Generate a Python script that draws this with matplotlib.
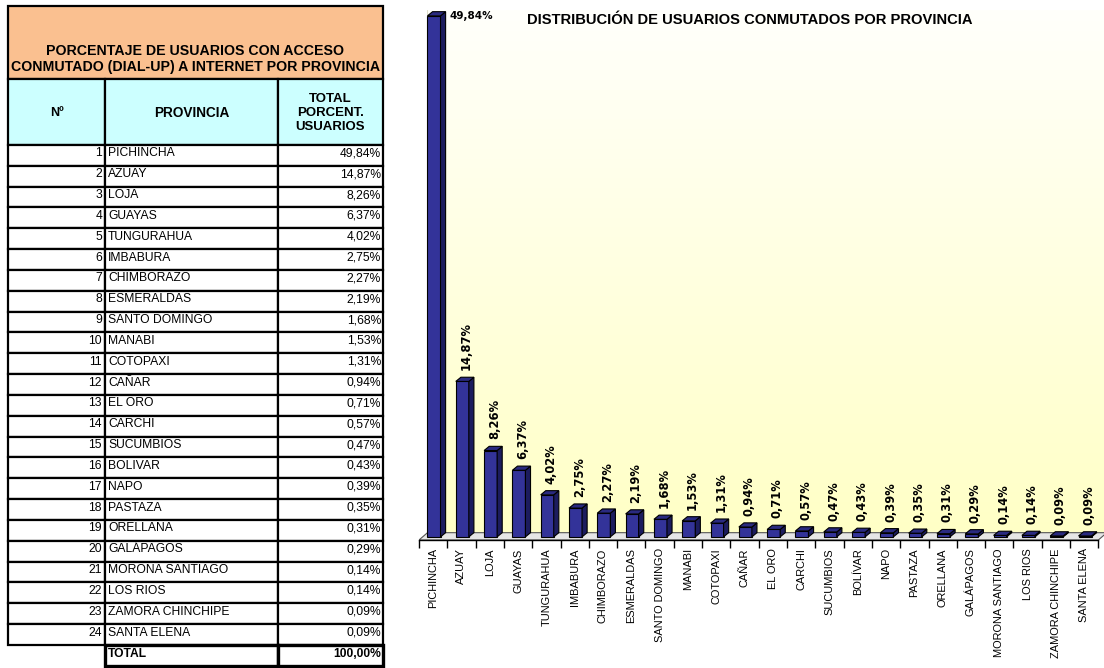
import numpy as np
import matplotlib.pyplot as plt
from matplotlib.patches import Polygon, Rectangle
from matplotlib.colors import LinearSegmentedColormap

plt.rcParams["font.family"] = ["Liberation Sans", "DejaVu Sans"]

provincias = [
    "PICHINCHA", "AZUAY", "LOJA", "GUAYAS", "TUNGURAHUA", "IMBABURA",
    "CHIMBORAZO", "ESMERALDAS", "SANTO DOMINGO", "MANABI", "COTOPAXI",
    "CAÑAR", "EL ORO", "CARCHI", "SUCUMBIOS", "BOLIVAR", "NAPO", "PASTAZA",
    "ORELLANA", "GALÁPAGOS", "MORONA SANTIAGO", "LOS RIOS",
    "ZAMORA CHINCHIPE", "SANTA ELENA",
]
etiquetas = [
    "PICHINCHA", "AZUAY", "LOJA", "GUAYAS", "TUNGURAHUA", "IMBABURA",
    "CHIMBORAZO", "ESMERALDAS", "SANTO DOMINGO", "MANABI", "COTOPAXI",
    "CAÑAR", "EL ORO", "CARCHI", "SUCUMBIOS", "BOLÍVAR", "NAPO", "PASTAZA",
    "ORELLANA", "GALÁPAGOS", "MORONA SANTIAGO", "LOS RIOS",
    "ZAMORA CHINCHIPE", "SANTA ELENA",
]
porcentajes = [
    49.84, 14.87, 8.26, 6.37, 4.02, 2.75, 2.27, 2.19, 1.68, 1.53, 1.31, 0.94,
    0.71, 0.57, 0.47, 0.43, 0.39, 0.35, 0.31, 0.29, 0.14, 0.14, 0.09, 0.09,
]
total_txt = "100,00%"
titulo_tabla = "PORCENTAJE DE USUARIOS CON ACCESO\nCONMUTADO (DIAL-UP) A INTERNET POR PROVINCIA"
titulo_grafico = "DISTRIBUCIÓN DE USUARIOS CONMUTADOS POR PROVINCIA"


def fmt(v):
    return f"{v:.2f}%".replace(".", ",")


W, H = 1104, 668
fig = plt.figure(figsize=(W / 100, H / 100), dpi=100)
fig.patch.set_facecolor("white")

# ---------------- table ----------------
tab = fig.add_axes([0, 0, 390 / W, 1])
tab.set_xlim(0, 390)
tab.set_ylim(H, 0)
tab.axis("off")

cols = [8, 105, 278, 383]
y_title, y_head, y_rows = 6, 79, 145
row_h = 20.83
lw = 1.6

tab.add_patch(Rectangle((cols[0], y_title), cols[3] - cols[0], y_head - y_title,
                        facecolor="#FAC090", edgecolor="black", lw=lw))
tab.text((cols[0] + cols[3]) / 2, 59, titulo_tabla, ha="center", va="center",
         fontsize=10.2, fontweight="bold", linespacing=1.1)

for c0, c1 in zip(cols[:-1], cols[1:]):
    tab.add_patch(Rectangle((c0, y_head), c1 - c0, y_rows - y_head,
                            facecolor="#CCFFFF", edgecolor="black", lw=lw))
tab.text((cols[0] + cols[1]) / 2, 113, "Nº", ha="center", va="center",
         fontsize=9, fontweight="bold")
tab.text((cols[1] + cols[2]) / 2, 113, "PROVINCIA", ha="center", va="center",
         fontsize=9.8, fontweight="bold")
tab.text((cols[2] + cols[3]) / 2, 113, "TOTAL\nPORCENT.\nUSUARIOS", ha="center",
         va="center", fontsize=9.5, fontweight="bold", linespacing=1.25)

for i, (prov, val) in enumerate(zip(provincias, porcentajes)):
    y0 = y_rows + i * row_h
    for c0, c1 in zip(cols[:-1], cols[1:]):
        tab.add_patch(Rectangle((c0, y0), c1 - c0, row_h, facecolor="white",
                                edgecolor="black", lw=lw))
    yc = y0 + row_h / 2 - 2
    tab.text(cols[1] - 3, yc, str(i + 1), ha="right", va="center", fontsize=8.7)
    tab.text(cols[1] + 3, yc, prov, ha="left", va="center", fontsize=8.7)
    tab.text(cols[3] - 2, yc, fmt(val), ha="right", va="center", fontsize=8.7)

y0 = y_rows + len(provincias) * row_h
for c0, c1 in zip(cols[1:-1], cols[2:]):
    tab.add_patch(Rectangle((c0, y0), c1 - c0, row_h, facecolor="white",
                            edgecolor="black", lw=2.4))
tab.text(cols[1] + 3, y0 + row_h / 2 - 1, "TOTAL", ha="left", va="center",
         fontsize=8.7, fontweight="bold")
tab.text(cols[3] - 2, y0 + row_h / 2 - 1, total_txt, ha="right", va="center",
         fontsize=8.7, fontweight="bold")

# ---------------- 3D-look bar chart ----------------
ax = fig.add_axes([419 / W, (H - 540) / H, (W - 419) / W, 530 / H])
x = np.arange(len(porcentajes))
dx, dy = 0.18, 0.4
width = 0.46
shift = 0.03

# wall with gradient
grad = np.linspace(0, 1, 256).reshape(-1, 1)
cmap = LinearSegmentedColormap.from_list("wall", ["#FFFFC6", "#FFFFFB"])
ax.imshow(grad, cmap=cmap, origin="lower", aspect="auto",
          extent=(-0.2, 23.9, 0.4, 50.4), zorder=0)
ax.plot([-0.2, -0.2], [0.4, 50.4], color="#d8d8c0", lw=0.6, zorder=0.5)

# floor
ax.add_patch(Polygon([(-0.5, -0.3), (23.5, -0.3), (23.8, 0.4), (-0.2, 0.4)],
                     closed=True, facecolor="#E6E6E6", edgecolor="#555555",
                     lw=0.8, zorder=1))

bars = ax.bar(x + shift, porcentajes, width=width, color="#333399",
              edgecolor="black", lw=0.8, zorder=3)
for rect, v in zip(bars, porcentajes):
    xl = rect.get_x()
    xr = xl + rect.get_width()
    ax.add_patch(Polygon([(xr, 0), (xr + dx, dy), (xr + dx, v + dy), (xr, v)],
                         closed=True, facecolor="#1C1C5E", edgecolor="black",
                         lw=0.8, zorder=3))
    ax.add_patch(Polygon([(xl, v), (xr, v), (xr + dx, v + dy), (xl + dx, v + dy)],
                         closed=True, facecolor="#2A2A80", edgecolor="black",
                         lw=0.8, zorder=3))

for i, v in enumerate(porcentajes):
    if i == 0:
        ax.annotate(fmt(v), xy=(x[i] + shift + width / 2 + dx, v + dy),
                    xytext=(3, -3), textcoords="offset points", ha="left",
                    va="center", fontsize=7.5, fontweight="bold",
                    family="DejaVu Sans")
    else:
        ax.annotate(fmt(v), xy=(x[i] + 0.16, v + dy), xytext=(0, 5),
                    textcoords="offset points", rotation=90, ha="center",
                    va="bottom", fontsize=8.3, fontweight="bold",
                    family="DejaVu Sans", zorder=4)

ax.set_xlim(-0.5, 23.7)
ax.set_ylim(-0.3, 50.4)
ax.set_xticks(x)
ax.set_xticklabels(etiquetas, rotation=90, fontsize=7.9, va="top", ha="center")
ax.set_xticks(np.arange(-0.5, 24, 1), minor=True)
ax.tick_params(axis="x", which="major", length=0, pad=6)
ax.tick_params(axis="x", which="minor", length=6, width=1, direction="out")
ax.set_yticks([])
for side in ["left", "right", "top"]:
    ax.spines[side].set_visible(False)
ax.spines["bottom"].set_bounds(-0.5, 23.5)
ax.spines["bottom"].set_linewidth(1)
ax.patch.set_alpha(0)

fig.text(527 / W, 1 - 20 / H, titulo_grafico, ha="left", va="center",
         fontsize=10.6, fontweight="bold")

fig.savefig("out.png", dpi=100)
